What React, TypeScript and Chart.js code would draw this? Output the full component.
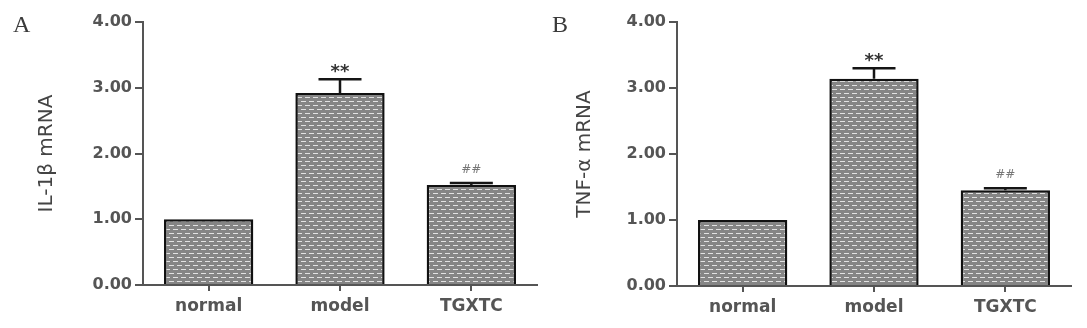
import React, { useEffect, useRef } from "react";
import { Chart, registerables } from "chart.js";

Chart.register(...registerables);

const categories = ["normal", "model", "TGXTC"];
const il1bValues = [1.0, 2.92, 1.52];
const il1bErrors = [0, 0.21, 0.03];
const il1bMarks = ["", "**", "##"];
const tnfValues = [1.0, 3.14, 1.45];
const tnfErrors = [0, 0.16, 0.03];
const tnfMarks = ["", "**", "##"];
const yMin = 0;
const yMax = 4;
const yStep = 1;

function makePattern(ctx: CanvasRenderingContext2D) {
  const c = document.createElement("canvas");
  c.width = 8;
  c.height = 8;
  const g = c.getContext("2d")!;
  g.fillStyle = "#858585";
  g.fillRect(0, 0, 8, 8);
  g.fillStyle = "#e2e2e2";
  g.fillRect(1, 1, 5, 1);
  g.fillRect(5, 5, 3, 1);
  g.fillRect(0, 5, 2, 1);
  return ctx.createPattern(c, "repeat")!;
}

const errorBarPlugin = {
  id: "errbars",
  afterDatasetsDraw(chart: any, _args: any, opts: any) {
    const ctx = chart.ctx as CanvasRenderingContext2D;
    const meta = chart.getDatasetMeta(0);
    const ys = chart.scales.y;
    const data = chart.data.datasets[0].data as number[];
    ctx.save();
    meta.data.forEach((bar: any, i: number) => {
      const v = data[i];
      const e = opts.errors[i];
      const x = bar.x;
      const yTop = ys.getPixelForValue(v + e);
      const yBase = ys.getPixelForValue(v);
      if (e > 0) {
        ctx.strokeStyle = "#151515";
        ctx.lineWidth = 2.5;
        ctx.beginPath();
        ctx.moveTo(x, yBase);
        ctx.lineTo(x, yTop);
        ctx.moveTo(x - 21.5, yTop);
        ctx.lineTo(x + 21.5, yTop);
        ctx.stroke();
      }
      const m = opts.marks[i];
      if (m === "**") {
        ctx.fillStyle = "#333";
        ctx.font = "bold 18px 'DejaVu Sans'";
        ctx.textAlign = "center";
        ctx.textBaseline = "alphabetic";
        ctx.fillText(m, x, yTop - 2);
      } else if (m) {
        ctx.fillStyle = "#777";
        ctx.font = "italic 12px 'DejaVu Sans'";
        ctx.textAlign = "center";
        ctx.textBaseline = "alphabetic";
        ctx.fillText(m, x, yTop - 10.5);
      }
    });
    ctx.fillStyle = "#3a3a3a";
    ctx.font = "24px 'Liberation Serif'";
    ctx.textAlign = "left";
    ctx.textBaseline = "alphabetic";
    ctx.fillText(opts.letter, opts.letterX, 32);
    ctx.restore();
  },
};

type PanelProps = {
  left: number;
  width: number;
  axisWidth: number;
  padRight: number;
  padTop: number;
  xAxisHeight: number;
  titleOffset: number;
  title: string;
  values: number[];
  errors: number[];
  marks: string[];
  letter: string;
  letterX: number;
};

function Panel(p: PanelProps) {
  const ref = useRef<HTMLCanvasElement>(null);
  useEffect(() => {
    const canvas = ref.current!;
    const ctx = canvas.getContext("2d")!;
    const pattern = makePattern(ctx);
    const chart = new Chart(ctx, {
      type: "bar",
      data: {
        labels: categories,
        datasets: [
          {
            data: p.values,
            backgroundColor: pattern as any,
            borderColor: "#111",
            borderWidth: 2.5,
            barPercentage: 0.68,
            categoryPercentage: 1,
          },
        ],
      },
      options: {
        responsive: false,
        animation: false,
        layout: { padding: { left: 0, right: p.padRight, top: p.padTop, bottom: 0 } },
        plugins: {
          legend: { display: false },
          tooltip: { enabled: false },
          errbars: { errors: p.errors, marks: p.marks, letter: p.letter, letterX: p.letterX },
        } as any,
        scales: {
          x: {
            offset: true,
            grid: { drawOnChartArea: false, offset: false, tickLength: 6, color: "#555", lineWidth: 2 },
            border: { color: "#555", width: 2 },
            ticks: {
              color: "#555",
              padding: 5,
              font: { family: "'DejaVu Sans'", size: 17, weight: "bold" },
            },
            afterFit: (s: any) => {
              s.height = p.xAxisHeight;
            },
          },
          y: {
            min: yMin,
            max: yMax,
            grid: { drawOnChartArea: false, tickLength: 8, color: "#555", lineWidth: 2 },
            border: { color: "#555", width: 2 },
            ticks: {
              stepSize: yStep,
              color: "#555",
              padding: 3,
              font: { family: "'DejaVu Sans'", size: 16, weight: "bold" },
              callback: (v: any) => Number(v).toFixed(2),
            },
            title: {
              display: true,
              text: p.title,
              color: "#444",
              font: { family: "'DejaVu Sans'", size: 20, weight: "normal" },
              padding: { top: p.titleOffset, bottom: 0 },
            },
            afterFit: (s: any) => {
              s.width = p.axisWidth;
            },
          },
        },
      },
      plugins: [errorBarPlugin as any],
    });
    return () => chart.destroy();
  }, []);
  return (
    <canvas
      ref={ref}
      width={p.width}
      height={328}
      style={{ position: "absolute", left: p.left, top: 0, width: p.width, height: 328 }}
    />
  );
}

export default function App() {
  return (
    <div style={{ position: "fixed", left: 0, top: 0, width: 1087, height: 328, background: "#fff" }}>
      <Panel
        left={0}
        width={543}
        axisWidth={143}
        padRight={6}
        padTop={22}
        xAxisHeight={43}
        titleOffset={35}
        title="IL-1β mRNA"
        values={il1bValues}
        errors={il1bErrors}
        marks={il1bMarks}
        letter="A"
        letterX={13}
      />
      <Panel
        left={543}
        width={544}
        axisWidth={134}
        padRight={16}
        padTop={22}
        xAxisHeight={42}
        titleOffset={30}
        title="TNF-α mRNA"
        values={tnfValues}
        errors={tnfErrors}
        marks={tnfMarks}
        letter="B"
        letterX={9}
      />
    </div>
  );
}
